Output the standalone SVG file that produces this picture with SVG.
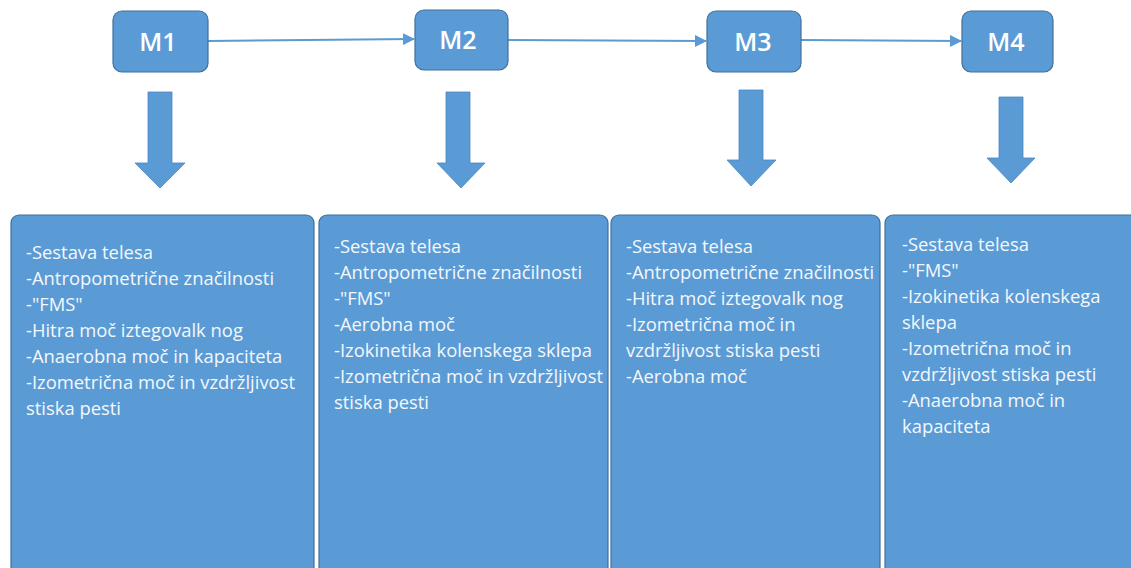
<svg xmlns="http://www.w3.org/2000/svg" width="1131" height="568" viewBox="0 0 1131 568">
<defs>
<marker id="ah" markerWidth="12" markerHeight="12" refX="11" refY="6" orient="auto" markerUnits="userSpaceOnUse">
<path d="M0,0 L12,6 L0,12 Z" fill="#5b9bd5"/>
</marker>
<style>
.node{fill:#5b9bd5;stroke:#41719c;stroke-width:1.2}
.lbl{font-family:"Open Sans","DejaVu Sans",sans-serif;font-size:25px;font-weight:600;fill:#ffffff;text-anchor:middle}
.txt{font-family:"Open Sans","DejaVu Sans",sans-serif;font-size:18.4px;fill:#f4f7fb}
.conn{stroke:#5b9bd5;stroke-width:2;fill:none}
.barrow{fill:#5b9bd5;stroke:#4a86c0;stroke-width:0.8}
</style>
</defs>
<rect width="1131" height="568" fill="#ffffff"/>
<g id="connectors">
<line class="conn" x1="208" y1="41" x2="414" y2="39" marker-end="url(#ah)"/>
<line class="conn" x1="508" y1="40" x2="706" y2="41" marker-end="url(#ah)"/>
<line class="conn" x1="801" y1="40" x2="961" y2="41" marker-end="url(#ah)"/>
<path class="barrow" d="M148,92 H172 V163 H185 L160,188 L135,163 H148 Z"/>
<path class="barrow" d="M446,92 H470 V163 H485 L461,188 L437,163 H446 Z"/>
<path class="barrow" d="M739,90 H763 V160 H776 L751,186 L727,160 H739 Z"/>
<path class="barrow" d="M999,97 H1023 V158 H1035 L1011,183 L987,158 H999 Z"/>
</g>
<g id="M1"><rect class="node" x="113" y="11" width="95" height="61" rx="9"/><text class="lbl" x="158" y="51">M1</text></g>
<g id="M2"><rect class="node" x="415" y="10" width="93" height="60" rx="9"/><text class="lbl" x="458" y="49">M2</text></g>
<g id="M3"><rect class="node" x="707" y="11" width="94" height="61" rx="9"/><text class="lbl" x="753" y="51">M3</text></g>
<g id="M4"><rect class="node" x="962" y="11" width="91" height="61" rx="9"/><text class="lbl" x="1006" y="51">M4</text></g>
<g id="B1"><rect class="node" x="11" y="215" width="303" height="370" rx="8"/>
<text class="txt"><tspan x="26" y="259">-Sestava telesa</tspan><tspan x="26" y="285">-Antropometrične značilnosti</tspan><tspan x="26" y="311">-"FMS"</tspan><tspan x="26" y="337">-Hitra moč iztegovalk nog</tspan><tspan x="26" y="363">-Anaerobna moč in kapaciteta</tspan><tspan x="26" y="389">-Izometrična moč in vzdržljivost</tspan><tspan x="26" y="415">stiska pesti</tspan></text></g>
<g id="B2"><rect class="node" x="319" y="215" width="289" height="370" rx="8"/>
<text class="txt"><tspan x="334" y="253">-Sestava telesa</tspan><tspan x="334" y="279">-Antropometrične značilnosti</tspan><tspan x="334" y="305">-"FMS"</tspan><tspan x="334" y="331">-Aerobna moč</tspan><tspan x="334" y="357">-Izokinetika kolenskega sklepa</tspan><tspan x="334" y="383">-Izometrična moč in vzdržljivost</tspan><tspan x="334" y="409">stiska pesti</tspan></text></g>
<g id="B3"><rect class="node" x="611" y="215" width="269" height="370" rx="8"/>
<text class="txt"><tspan x="626" y="253">-Sestava telesa</tspan><tspan x="626" y="279">-Antropometrične značilnosti</tspan><tspan x="626" y="305">-Hitra moč iztegovalk nog</tspan><tspan x="626" y="331">-Izometrična moč in</tspan><tspan x="626" y="357">vzdržljivost stiska pesti</tspan><tspan x="626" y="383">-Aerobna moč</tspan></text></g>
<g id="B4"><rect class="node" x="885" y="215" width="260" height="370" rx="8"/>
<text class="txt"><tspan x="902" y="251">-Sestava telesa</tspan><tspan x="902" y="277">-"FMS"</tspan><tspan x="902" y="303">-Izokinetika kolenskega</tspan><tspan x="902" y="329">sklepa</tspan><tspan x="902" y="355">-Izometrična moč in</tspan><tspan x="902" y="381">vzdržljivost stiska pesti</tspan><tspan x="902" y="407">-Anaerobna moč in</tspan><tspan x="902" y="433">kapaciteta</tspan></text></g>
</svg>
